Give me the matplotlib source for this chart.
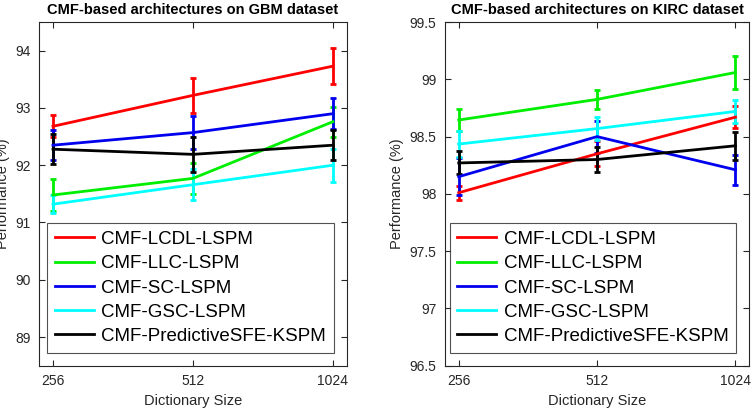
import matplotlib
matplotlib.use('Agg')
import matplotlib.pyplot as plt
from matplotlib.lines import Line2D
import numpy as np

plt.rcParams['font.family'] = ['Liberation Sans', 'DejaVu Sans']

dict_sizes = ['256', '512', '1024']
names = ['CMF-LCDL-LSPM', 'CMF-LLC-LSPM', 'CMF-SC-LSPM', 'CMF-GSC-LSPM', 'CMF-PredictiveSFE-KSPM']
colors = ['#ff0000', '#00ee00', '#0000ee', '#00ffff', '#000000']

# GBM dataset: mean and error
gbm_mean = [[92.68, 93.22, 93.73],
            [91.48, 91.77, 92.76],
            [92.35, 92.57, 92.90],
            [91.32, 91.66, 92.00],
            [92.28, 92.19, 92.35]]
gbm_err = [[0.19, 0.31, 0.32],
           [0.28, 0.27, 0.26],
           [0.26, 0.29, 0.27],
           [0.16, 0.27, 0.29],
           [0.26, 0.30, 0.26]]

# KIRC dataset
kirc_mean = [[98.01, 98.35, 98.67],
             [98.645, 98.825, 99.06],
             [98.15, 98.50, 98.21],
             [98.435, 98.57, 98.72],
             [98.27, 98.30, 98.42]]
kirc_err = [[0.06, 0.11, 0.095],
            [0.10, 0.08, 0.14],
            [0.16, 0.14, 0.13],
            [0.11, 0.10, 0.10],
            [0.10, 0.11, 0.12]]

fig = plt.figure(figsize=(7.54, 4.09), dpi=100)
ax1 = fig.add_axes([0.0517, 0.106, 0.4083, 0.840])
ax2 = fig.add_axes([0.590, 0.106, 0.4038, 0.840])

x = np.arange(1, 4)

def draw(ax, means, errs, title, ylim, yticks):
    for i in range(len(names)):
        ax.errorbar(x, means[i], yerr=errs[i], color=colors[i], lw=2, elinewidth=2,
                    capsize=2.5, capthick=2)
    ax.set_xlim(0.9, 3.1)
    ax.set_ylim(*ylim)
    ax.set_yticks(yticks)
    ax.set_xticks(x)
    ax.set_xticklabels(dict_sizes)
    ax.tick_params(direction='in', top=True, right=True, labelsize=10, colors='#262626',
                   labelcolor='#262626', length=4, pad=6)
    for s in ax.spines.values():
        s.set_color('#262626')
        s.set_linewidth(0.8)
    ax.set_title(title, fontsize=10.5, fontweight='bold', pad=6)
    ax.set_xlabel('Dictionary Size', fontsize=10.5, color='#262626')
    ax.set_ylabel('Performance (%)', fontsize=10.5, color='#262626', labelpad=4)
    handles = [Line2D([], [], color=c, lw=2) for c in colors]
    leg = ax.legend(handles, names, loc='lower right', fontsize=13.5, frameon=True,
                    fancybox=False, edgecolor='#262626', handlelength=2.1,
                    labelspacing=0.38, borderaxespad=0.7, handletextpad=0.4,
                    borderpad=0.4)
    leg.get_frame().set_linewidth(0.8)

draw(ax1, gbm_mean, gbm_err, 'CMF-based architectures on GBM dataset', (88.5, 94.5),
     [89, 90, 91, 92, 93, 94])
draw(ax2, kirc_mean, kirc_err, 'CMF-based architectures on KIRC dataset', (96.5, 99.5),
     [96.5, 97, 97.5, 98, 98.5, 99, 99.5])
ax2.set_yticklabels(['96.5', '97', '97.5', '98', '98.5', '99', '99.5'])

fig.savefig('out.png', dpi=100)
